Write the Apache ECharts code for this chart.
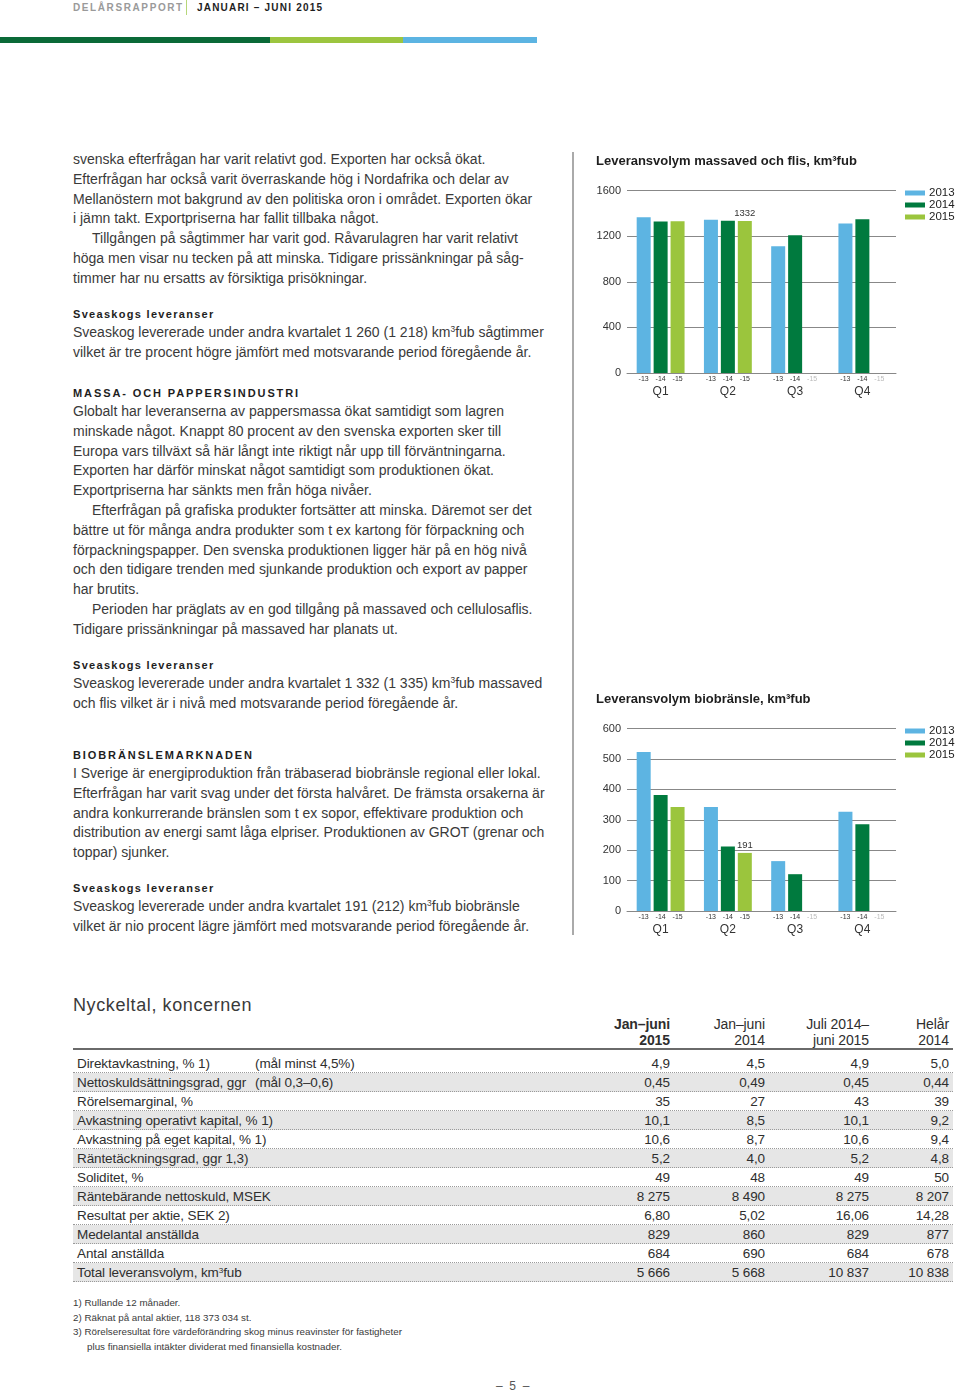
<!DOCTYPE html>
<html lang="sv">
<head>
<meta charset="utf-8">
<title>Delårsrapport januari – juni 2015</title>
<script src="https://cdn.jsdelivr.net/npm/echarts/dist/echarts.min.js"></script>
<style>
  html, body { margin: 0; padding: 0; background: #fff; }
  body { width: 960px; height: 1394px; position: relative; overflow: hidden;
         font-family: "Liberation Sans", Arial, sans-serif; color: #3a3a3a; }
  .abs { position: absolute; }
  .hdr1 { left: 73px; top: 1px; font-size: 10px; font-weight: bold; letter-spacing: 1.6px; color: #9a9a9a; line-height: 14px; }
  .hdrsep { left: 186px; top: 0px; width: 1px; height: 15px; background: #b6d77a; }
  .hdr2 { left: 197px; top: 1px; font-size: 10px; font-weight: bold; letter-spacing: 1.2px; color: #1e1e1e; line-height: 14px; }
  .bar { top: 37px; height: 6px; }
  .txt { left: 73px; font-size: 14px; line-height: 19.8px; white-space: nowrap; color: #3a3a3a; }
  .ind { padding-left: 19px; }
  .h { left: 73px; font-size: 11px; font-weight: bold; letter-spacing: 1.3px; line-height: 16px; color: #1e1e1e; white-space: nowrap; }
  .hcap { letter-spacing: 1.9px; }
  sup { font-size: 0.6em; line-height: 0; vertical-align: 0.55em; }
  .vline { left: 572px; top: 152px; width: 1.5px; height: 783px; background: #aaa; }
  .chart { left: 575px; width: 385px; height: 260px; }
  .ttl { left: 73px; top: 994px; font-size: 18px; letter-spacing: 0.6px; color: #3a3a3a; line-height: 22px; }
  .tbl { left: 73px; width: 880px; font-family: "Liberation Sans", Arial, sans-serif; font-size: 13.5px; letter-spacing: -0.1px; color: #2e2e2e; }
  .row { position: absolute; left: 0; width: 880px; height: 19px; box-sizing: border-box; border-bottom: 1px dotted #9a9a9a; line-height: 19px; }
  .row.g { background: #e6e6e6; }
  .cell { position: absolute; top: 0; white-space: nowrap; }
  .num { text-align: right; }
  .hline { left: 73px; top: 1048px; width: 880px; height: 2px; background: #6a6a6a; }
  .fn { left: 73px; font-size: 9.8px; line-height: 14.7px; color: #3a3a3a; white-space: nowrap; }
  .pg { left: 496px; top: 1378px; font-size: 12px; color: #555; line-height: 16px; }
</style>
</head>
<body>
<div class="abs hdr1">DELÅRSRAPPORT</div>
<div class="abs hdrsep"></div>
<div class="abs hdr2">JANUARI – JUNI 2015</div>
<div class="abs bar" style="left:0;width:270px;background:#0b6a38"></div>
<div class="abs bar" style="left:270px;width:133px;background:#9cc53f"></div>
<div class="abs bar" style="left:403px;width:134px;background:#5cb4e2"></div>

<div class="abs txt" style="top:150px">svenska efterfrågan har varit relativt god. Exporten har också ökat.<br>Efterfrågan har också varit överraskande hög i Nordafrika och delar av<br>Mellanöstern mot bakgrund av den politiska oron i området. Exporten ökar<br>i jämn takt. Exportpriserna har fallit tillbaka något.<br><span class="ind">Tillgången på sågtimmer har varit god. Råvarulagren har varit relativt</span><br>höga men visar nu tecken på att minska. Tidigare prissänkningar på såg-<br>timmer har nu ersatts av försiktiga prisökningar.</div>

<div class="abs h" style="top:306px">Sveaskogs leveranser</div>
<div class="abs txt" style="top:323px">Sveaskog levererade under andra kvartalet 1 260 (1 218) km<sup>3</sup>fub sågtimmer<br>vilket är tre procent högre jämfört med motsvarande period föregående år.</div>

<div class="abs h hcap" style="top:385px">MASSA- OCH PAPPERSINDUSTRI</div>
<div class="abs txt" style="top:402px">Globalt har leveranserna av pappersmassa ökat samtidigt som lagren<br>minskade något. Knappt 80 procent av den svenska exporten sker till<br>Europa vars tillväxt så här långt inte riktigt når upp till förväntningarna.<br>Exporten har därför minskat något samtidigt som produktionen ökat.<br>Exportpriserna har sänkts men från höga nivåer.<br><span class="ind">Efterfrågan på grafiska produkter fortsätter att minska. Däremot ser det</span><br>bättre ut för många andra produkter som t ex kartong för förpackning och<br>förpackningspapper. Den svenska produktionen ligger här på en hög nivå<br>och den tidigare trenden med sjunkande produktion och export av papper<br>har brutits.<br><span class="ind">Perioden har präglats av en god tillgång på massaved och cellulosaflis.</span><br>Tidigare prissänkningar på massaved har planats ut.</div>

<div class="abs h" style="top:657px">Sveaskogs leveranser</div>
<div class="abs txt" style="top:674px">Sveaskog levererade under andra kvartalet 1 332 (1 335) km<sup>3</sup>fub massaved<br>och flis vilket är i nivå med motsvarande period föregående år.</div>

<div class="abs h hcap" style="top:747px">BIOBRÄNSLEMARKNADEN</div>
<div class="abs txt" style="top:764px">I Sverige är energiproduktion från träbaserad biobränsle regional eller lokal.<br>Efterfrågan har varit svag under det första halvåret. De främsta orsakerna är<br>andra konkurrerande bränslen som t ex sopor, effektivare produktion och<br>distribution av energi samt låga elpriser. Produktionen av GROT (grenar och<br>toppar) sjunker.</div>

<div class="abs h" style="top:880px">Sveaskogs leveranser</div>
<div class="abs txt" style="top:897px">Sveaskog levererade under andra kvartalet 191 (212) km<sup>3</sup>fub biobränsle<br>vilket är nio procent lägre jämfört med motsvarande period föregående år.</div>

<div class="abs vline"></div>
<div id="c1" class="abs chart" style="top:145px"></div>
<div id="c2" class="abs chart" style="top:683px"></div>

<div class="abs ttl">Nyckeltal, koncernen</div>
<div id="tblhead" class="abs tbl" style="top:1016px;height:32px"></div>
<div class="abs hline"></div>
<div id="tblbody" class="abs tbl" style="top:1054px;height:230px"></div>

<div class="abs fn" style="top:1296px">1)&nbsp;Rullande 12 månader.<br>2)&nbsp;Räknat på antal aktier, 118 373 034 st.<br>3)&nbsp;Rörelseresultat före värdeförändring skog minus reavinster för fastigheter<br><span style="padding-left:14px">plus finansiella intäkter dividerat med finansiella kostnader.</span></div>
<div class="abs pg">–&nbsp;&nbsp;5&nbsp;&nbsp;–</div>

<script>
// ---- Chart data ----
const quarters = ['Q1', 'Q2', 'Q3', 'Q4'];
const years = ['2013', '2014', '2015'];
const yearSuffixes = ['-13', '-14', '-15'];

const massaved2013 = [1366, 1343, 1112, 1310];
const massaved2014 = [1328, 1335, 1208, 1349];
const massaved2015 = [1330, 1332, null, null];
const massavedLabelQuarter = 1; // Q2 2015 labelled value

const bio2013 = [523, 342, 164, 326];
const bio2014 = [381, 212, 121, 285];
const bio2015 = [342, 191, null, null];
const bioLabelQuarter = 1;

const massavedAxis = { min: 0, max: 1600, interval: 400 };
const bioAxis = { min: 0, max: 600, interval: 100 };

const chartTitles = ['Leveransvolym massaved och flis, km³fub', 'Leveransvolym biobränsle, km³fub'];
const colors = ['#5db4e2', '#007a3e', '#9bc53d'];

// ---- Table data ----
const tableHeaders = [['Jan–juni', '2015'], ['Jan–juni', '2014'], ['Juli 2014–', 'juni 2015'], ['Helår', '2014']];
const tableLabels = ['Direktavkastning, % 1)', 'Nettoskuldsättningsgrad, ggr', 'Rörelsemarginal, %', 'Avkastning operativt kapital, % 1)', 'Avkastning på eget kapital, % 1)', 'Räntetäckningsgrad, ggr 1,3)', 'Soliditet, %', 'Räntebärande nettoskuld, MSEK', 'Resultat per aktie, SEK 2)', 'Medelantal anställda', 'Antal anställda', 'Total leveransvolym, km<sup>3</sup>fub'];
const tableNotes = ['(mål minst 4,5%)', '(mål 0,3–0,6)', '', '', '', '', '', '', '', '', '', ''];
const colJanJuni2015 = ['4,9', '0,45', '35', '10,1', '10,6', '5,2', '49', '8 275', '6,80', '829', '684', '5 666'];
const colJanJuni2014 = ['4,5', '0,49', '27', '8,5', '8,7', '4,0', '48', '8 490', '5,02', '860', '690', '5 668'];
const colRolling = ['4,9', '0,45', '43', '10,1', '10,6', '5,2', '49', '8 275', '16,06', '829', '684', '10 837'];
const colHelar2014 = ['5,0', '0,44', '39', '9,2', '9,4', '4,8', '50', '8 207', '14,28', '877', '678', '10 838'];

// ---- Build table ----
const colRight = [597, 692, 796, 876]; // right edges relative to table left
const head = document.getElementById('tblhead');
tableHeaders.forEach((h, i) => {
  const d = document.createElement('div');
  d.className = 'cell num';
  d.style.right = (880 - colRight[i]) + 'px';
  d.style.lineHeight = '16px';
  d.style.fontSize = '14px';
  if (i === 0) d.style.fontWeight = 'bold';
  d.innerHTML = h[0] + '<br>' + h[1];
  head.appendChild(d);
});
const body = document.getElementById('tblbody');
const cols = [colJanJuni2015, colJanJuni2014, colRolling, colHelar2014];
tableLabels.forEach((lab, r) => {
  const row = document.createElement('div');
  row.className = 'row' + (r % 2 === 1 ? ' g' : '');
  row.style.top = (r * 19) + 'px';
  let html = '<div class="cell" style="left:4px">' + lab + '</div>';
  if (tableNotes[r]) html += '<div class="cell" style="left:182px">' + tableNotes[r] + '</div>';
  cols.forEach((c, i) => {
    html += '<div class="cell num" style="right:' + (880 - colRight[i]) + 'px">' + c[r] + '</div>';
  });
  row.innerHTML = html;
  body.appendChild(row);
});

// ---- Charts ----
function makeOption(title, s2013, s2014, s2015, axis, labelIdx) {
  const seriesData = [s2013, s2014, s2015];
  return {
    animation: false,
    textStyle: { fontFamily: 'Liberation Sans, Arial, sans-serif' },
    title: {
      text: title, left: 16, top: 5,
      textStyle: { fontSize: 13, fontWeight: 'bold', color: '#1e1e1e', fontFamily: 'Liberation Sans, Arial, sans-serif' }
    },
    legend: {
      data: years, orient: 'vertical', left: 330, top: 42, padding: 0,
      icon: 'rect', itemWidth: 20, itemHeight: 5, itemGap: 0,
      textStyle: { fontSize: 11.5, color: '#222', lineHeight: 11, padding: [0, 0, 0, -1] },
      selectedMode: false
    },
    grid: { left: 52, right: 64, top: 45.5, bottom: 32 },
    xAxis: {
      type: 'category', data: quarters,
      axisLine: { lineStyle: { color: '#888', width: 1 } },
      axisTick: { show: false },
      axisLabel: {
        margin: 1,
        interval: 0,
        formatter: function (v) {
          const q = quarters.indexOf(v);
          const parts = yearSuffixes.map((s, k) => {
            const has = seriesData[k][q] !== null && seriesData[k][q] !== undefined;
            return '{' + (has ? 's' : 'g') + '|' + s + '}';
          });
          return parts.join('') + '\n{q|' + v + '}';
        },
        rich: {
          s: { fontSize: 7, color: '#333', width: 17, align: 'center', lineHeight: 10 },
          g: { fontSize: 7, color: '#bbb', width: 17, align: 'center', lineHeight: 10 },
          q: { fontSize: 12, color: '#333', align: 'center', lineHeight: 15 }
        }
      }
    },
    yAxis: {
      type: 'value', min: axis.min, max: axis.max, interval: axis.interval,
      axisLine: { show: false }, axisTick: { show: false },
      axisLabel: { fontSize: 11, color: '#333', margin: 6, formatter: function (v) { return String(v); } },
      splitLine: { lineStyle: { color: '#888', width: 1 } }
    },
    series: years.map((y, k) => ({
      name: y, type: 'bar', barWidth: 14, barGap: '21%',
      itemStyle: { color: colors[k] },
      data: seriesData[k].map((v, i) => (k === 2 && i === labelIdx)
        ? { value: v, label: { show: true, position: 'top', distance: 3, fontSize: 9.5, color: '#333' } }
        : v)
    })),
    color: colors
  };
}

const c1 = echarts.init(document.getElementById('c1'));
c1.setOption(makeOption(chartTitles[0], massaved2013, massaved2014, massaved2015, massavedAxis, massavedLabelQuarter));
const c2 = echarts.init(document.getElementById('c2'));
c2.setOption(makeOption(chartTitles[1], bio2013, bio2014, bio2015, bioAxis, bioLabelQuarter));
</script>
</body>
</html>
